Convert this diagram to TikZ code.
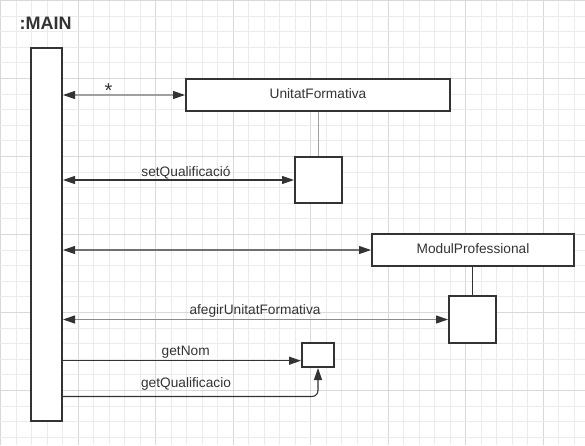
\documentclass[tikz,border=0pt]{standalone}
\usepackage{fontspec}
\setmainfont{Liberation Sans}
\usetikzlibrary{arrows.meta}
\definecolor{ink}{HTML}{333333}
\definecolor{gridminor}{HTML}{EBEBEB}
\definecolor{gridmajor}{HTML}{D9D9D9}
\definecolor{lightwire}{HTML}{A0A0A0}
\definecolor{midwire}{HTML}{8A8A8A}
\definecolor{darkwire}{HTML}{707070}
\tikzset{
  x=1pt, y=-1pt,
  lifebox/.style={draw=ink, line width=2pt, fill=white, inner sep=0pt},
  label/.style={text=ink, font=\fontsize{13.7}{16}\selectfont, inner sep=0pt, anchor=base},
  tip/.tip={Triangle[length=12pt,width=8pt,color=ink]},
  msg/.style={line width=1.1pt, -tip},
  dmsg/.style={line width=1.1pt, tip-tip},
}
\begin{document}
\begin{tikzpicture}
  \useasboundingbox (0,0) rectangle (585,445);
  \fill[white] (0,0) rectangle (585,445);
  % background grid
  \foreach \k in {0,...,37}{
    \pgfmathsetmacro{\gx}{0.5+15.5*\k}
    \pgfmathtruncatemacro{\maj}{mod(\k,5)==0}
    \ifnum\maj=1 \draw[gridmajor, line width=1pt] (\gx,0) -- (\gx,445);
    \else \draw[gridminor, line width=1pt] (\gx,0) -- (\gx,445); \fi
  }
  \foreach \k in {0,...,28}{
    \pgfmathsetmacro{\gy}{0.4+15.6*\k}
    \pgfmathtruncatemacro{\maj}{mod(\k,5)==0}
    \ifnum\maj=1 \draw[gridmajor, line width=1pt] (0,\gy) -- (585,\gy);
    \else \draw[gridminor, line width=1pt] (0,\gy) -- (585,\gy); \fi
  }

  % title
  \node[text=ink, font=\bfseries\fontsize{18}{21}\selectfont, inner sep=0pt, anchor=base west] (title) at (19.5,29) {:MAIN};

  % lifeline of MAIN
  \node[lifebox, minimum width=31pt, minimum height=373pt] (main) at (46.5,234.5) {};

  % objects and their activations
  \node[lifebox, minimum width=264pt, minimum height=32pt] (uf) at (318,95) {};
  \node[label] (uftext) at (318,98.5) {UnitatFormativa};
  \node[lifebox, minimum width=47pt, minimum height=46pt] (ufact) at (318.5,180) {};

  \node[lifebox, minimum width=202pt, minimum height=32pt] (mp) at (473,250) {};
  \node[label] (mptext) at (473,253.5) {ModulProfessional};
  \node[lifebox, minimum width=47pt, minimum height=47pt] (mpact) at (472.5,319.5) {};

  \node[lifebox, minimum width=32pt, minimum height=24pt] (tgt) at (318,355) {};

  % object lifelines
  \draw[lightwire, line width=1.3pt] (uf.south -| ufact.north) -- (ufact.north);
  \draw[ink, line width=1.2pt] (mp.south -| mpact.north) -- (mpact.north);

  % messages
  \draw[dmsg, lightwire] (main.east |- uf.west) -- (uf.west);
  \node[text=ink, font=\fontsize{20}{20}\selectfont, inner sep=0pt] (star) at (108.5,90.5) {*};

  \draw[dmsg, ink] (main.east |- ufact.west) -- (ufact.west);
  \node[label] (setq) at (186,176) {setQualificació};

  \draw[dmsg, darkwire] (main.east |- mp.west) -- (mp.west);

  \draw[dmsg, midwire] (main.east |- mpact.west) -- (mpact.west);
  \node[label] (afeg) at (255,314) {afegirUnitatFormativa};

  \coordinate (nomend) at (tgt.west |- 0,360.7);
  \draw[msg, ink] (main.east |- nomend) -- (nomend);
  \node[label] (getnom) at (185.7,355) {getNom};

  \coordinate (qturn) at (tgt.south |- 0,396.5);
  \draw[msg, ink, rounded corners=6pt] (main.east |- qturn) -- (qturn) -- (tgt.south);
  \node[label] (getq) at (186,387.5) {getQualificacio};
\end{tikzpicture}
\end{document}
